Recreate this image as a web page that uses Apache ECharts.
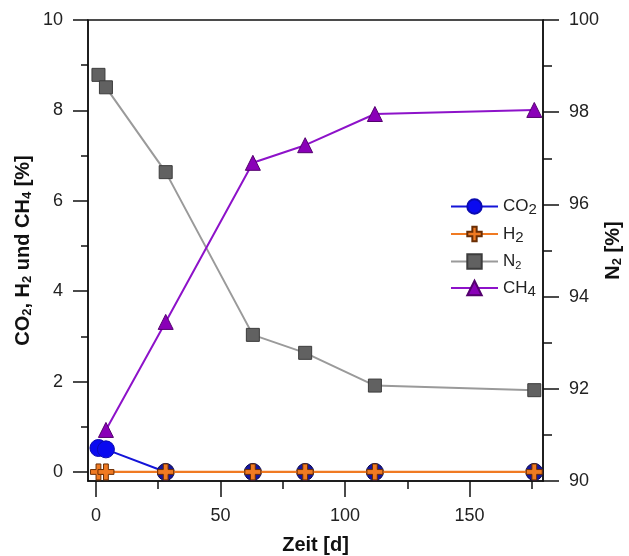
<!DOCTYPE html>
<html>
<head>
<meta charset="utf-8">
<script src="https://cdn.jsdelivr.net/npm/echarts@6/dist/echarts.min.js"></script>
<style>
  html, body { margin: 0; padding: 0; background: #fff; }
  #chart { width: 629px; height: 556px; }
</style>
</head>
<body>
<div id="chart"></div>
<script>
// Sampling days
const days = [1, 4, 28, 63, 84, 112, 176];
// Gas fractions [%]
const co2 = [0.53, 0.50, 0, 0, 0, 0, 0];
const h2 = [0, 0, 0, 0, 0, 0, 0];
const n2 = [98.81, 98.54, 96.70, 93.17, 92.78, 92.07, 91.97];
const ch4Days = [4, 28, 63, 84, 112, 176];
const ch4 = [0.93, 3.32, 6.84, 7.23, 7.92, 8.01];

// Tick positions
const xMajor = [0, 50, 100, 150];
const xMinor = [25, 75, 125, 175];
const yLeftMajor = [0, 2, 4, 6, 8, 10];
const yLeftMinor = [1, 3, 5, 7, 9];
const yRightMajor = [90, 92, 94, 96, 98, 100];
const yRightMinor = [91, 93, 95, 97, 99];

const FONT = 'Liberation Sans, Arial, sans-serif';
const pairs = (xs, ys) => xs.map((x, i) => [x, ys[i]]);

const legendRich = {
  n: { fontSize: 17, fontFamily: FONT, color: '#222' },
  s: { fontSize: 15, fontFamily: FONT, color: '#222', padding: [7, 0, 0, 0] },
  t: { fontSize: 11, fontFamily: FONT, color: '#222', padding: [9, 0, 0, 0] }
};
const legendLabels = {
  'CO2': '{n|CO}{s|2}',
  'H2': '{n|H}{s|2}',
  'N2': '{n|N}{t|2}',
  'CH4': '{n|CH}{s|4}'
};

const nameRich = {
  b: { fontSize: 20, fontWeight: 'bold', fontFamily: FONT, color: '#111' },
  s: { fontSize: 13, fontWeight: 'bold', fontFamily: FONT, color: '#111', padding: [9, 0, 0, 0] }
};

const tickLabelStyle = { fontSize: 18, fontFamily: FONT, color: '#222' };
const axisLineStyle = { color: '#111', width: 1.5 };

const plus = 'path://M3.5,0 H6.5 V3.5 H10 V6.5 H6.5 V10 H3.5 V6.5 H0 V3.5 H3.5 Z';

const chart = echarts.init(document.getElementById('chart'), null, { renderer: 'canvas' });

chart.setOption({
  animation: false,
  backgroundColor: '#fff',
  grid: {
    left: 88, right: 86, top: 20, bottom: 75,
    containLabel: false, outerBoundsMode: 'none',
    show: true, borderColor: '#111', borderWidth: 1.5, backgroundColor: 'transparent'
  },
  legend: {
    orient: 'vertical',
    left: 445, top: 193,
    itemWidth: 47, itemHeight: 18, itemGap: 8,
    data: ['CO2', 'H2', 'N2', 'CH4'],
    formatter: name => legendLabels[name],
    textStyle: { rich: legendRich }
  },
  xAxis: [
    {
      type: 'value', min: -3.2, max: 179.5, position: 'bottom',
      name: 'Zeit [d]', nameLocation: 'middle', nameGap: 54, nameMoveOverlap: false,
      nameTextStyle: { fontSize: 20, fontWeight: 'bold', fontFamily: FONT, color: '#111' },
      splitLine: { show: false },
      axisLine: { show: true, onZero: false, lineStyle: axisLineStyle },
      axisTick: { show: true, length: 16, inside: false, customValues: xMajor, lineStyle: axisLineStyle },
      axisLabel: { customValues: xMajor, margin: 26, ...tickLabelStyle }
    },
    {
      type: 'value', min: -3.2, max: 179.5, position: 'bottom',
      splitLine: { show: false },
      axisLine: { show: false, onZero: false },
      axisTick: { show: true, length: 8, inside: false, customValues: xMinor, lineStyle: axisLineStyle },
      axisLabel: { show: false }
    }
  ],
  yAxis: [
    {
      type: 'value', min: -0.2, max: 10, position: 'left',
      name: '{b|CO}{s|2}{b|, H}{s|2}{b| und CH}{s|4}{b| [%]}',
      nameLocation: 'middle', nameRotate: 90, nameGap: 54, nameMoveOverlap: false,
      nameTextStyle: { rich: nameRich },
      splitLine: { show: false },
      axisLine: { show: true, onZero: false, lineStyle: axisLineStyle },
      axisTick: { show: true, length: 15, inside: false, customValues: yLeftMajor, lineStyle: axisLineStyle },
      axisLabel: { customValues: yLeftMajor, margin: 25, ...tickLabelStyle }
    },
    {
      type: 'value', min: 90, max: 100, position: 'right',
      name: '{b|N}{s|2}{b| [%]}',
      nameLocation: 'middle', nameRotate: 90, nameGap: 59, nameMoveOverlap: false,
      nameTextStyle: { rich: nameRich },
      splitLine: { show: false },
      axisLine: { show: true, onZero: false, lineStyle: axisLineStyle },
      axisTick: { show: true, length: 16, inside: false, customValues: yRightMajor, lineStyle: axisLineStyle },
      axisLabel: { customValues: yRightMajor, margin: 26, ...tickLabelStyle }
    },
    {
      type: 'value', min: -0.2, max: 10, position: 'left',
      splitLine: { show: false },
      axisLine: { show: false, onZero: false },
      axisTick: { show: true, length: 7, inside: false, customValues: yLeftMinor, lineStyle: axisLineStyle },
      axisLabel: { show: false }
    },
    {
      type: 'value', min: 90, max: 100, position: 'right',
      splitLine: { show: false },
      axisLine: { show: false, onZero: false },
      axisTick: { show: true, length: 9, inside: false, customValues: yRightMinor, lineStyle: axisLineStyle },
      axisLabel: { show: false }
    }
  ],
  series: [
    {
      name: 'CO2', type: 'line', xAxisIndex: 0, yAxisIndex: 0,
      data: days.map((d, i) => ({
        value: [d, co2[i]],
        itemStyle: co2[i] === 0 ? { color: '#17179c', borderColor: '#0a0a50' } : undefined
      })),
      symbol: 'circle', symbolSize: 17,
      lineStyle: { color: '#1414d8', width: 2 },
      itemStyle: { color: '#0a0af0', borderColor: '#0a0ab0', borderWidth: 1 },
      z: 2
    },
    {
      name: 'H2', type: 'line', xAxisIndex: 0, yAxisIndex: 0,
      data: pairs(days, h2),
      symbol: plus, symbolSize: 16,
      lineStyle: { color: '#f07a22', width: 2.2 },
      itemStyle: { color: '#f07a22', borderColor: '#6a2e05', borderWidth: 1 },
      z: 3
    },
    {
      name: 'N2', type: 'line', xAxisIndex: 0, yAxisIndex: 1,
      data: pairs(days, n2),
      symbol: 'rect', symbolSize: 13,
      lineStyle: { color: '#9a9a9a', width: 2 },
      itemStyle: { color: '#616161', borderColor: '#3c3c3c', borderWidth: 1 },
      z: 4
    },
    {
      name: 'CH4', type: 'line', xAxisIndex: 0, yAxisIndex: 0,
      data: pairs(ch4Days, ch4),
      symbol: 'triangle', symbolSize: 15,
      lineStyle: { color: '#8d12c9', width: 2 },
      itemStyle: { color: '#8a00b8', borderColor: '#54006e', borderWidth: 1 },
      z: 5
    }
  ]
});
</script>
</body>
</html>
